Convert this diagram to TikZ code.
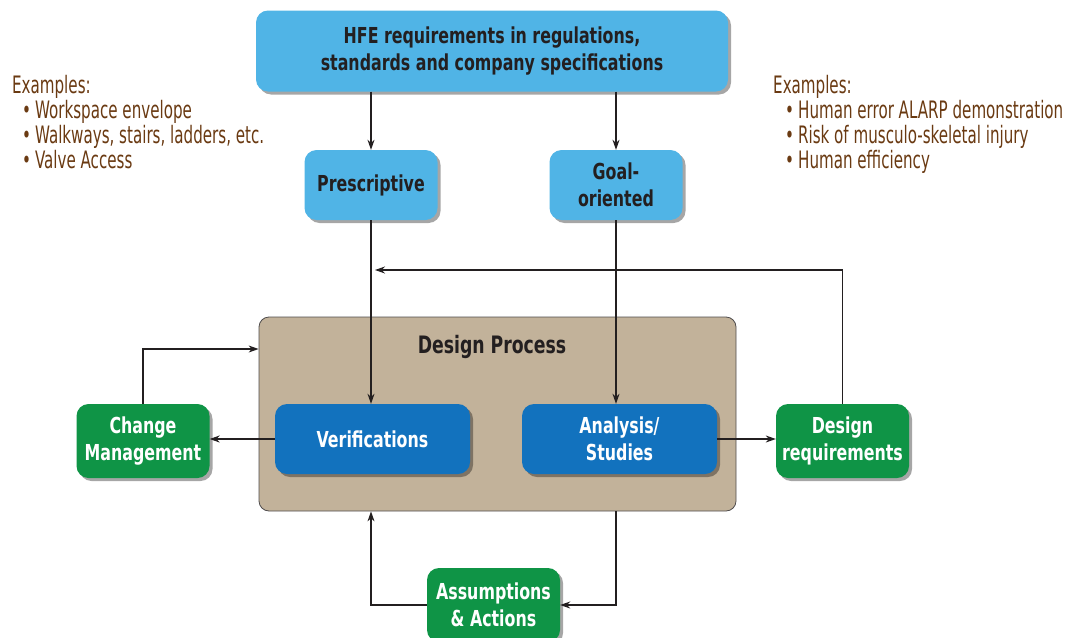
\documentclass[tikz,border=0pt]{standalone}
\usepackage{fontspec}
\setmainfont{DejaVu Sans Condensed}[FakeStretch=0.8]
\newfontfamily\exfont{DejaVu Sans Condensed}[FakeStretch=0.7]
\usepackage{tikz}
\usetikzlibrary{arrows.meta,positioning,shadows,calc}
\usepackage{xcolor}
\definecolor{hfeblue}{HTML}{50B4E6}
\definecolor{procblue}{HTML}{1272BE}
\definecolor{chgreen}{HTML}{0F9446}
\definecolor{designtan}{HTML}{C2B29A}
\definecolor{exbrown}{HTML}{6A3A12}
\definecolor{inkdark}{HTML}{231F20}

\begin{document}
\begin{tikzpicture}[
    x=1pt, y=-1pt,
    box/.style={rounded corners=12pt, align=center, inner sep=2pt, font=\bfseries\fontsize{22}{27}\selectfont, drop shadow={shadow xshift=3pt, shadow yshift=-3pt, opacity=0.35, fill=black}},
    lbox/.style={box, fill=hfeblue, text=inkdark, minimum width=133pt, minimum height=70pt},
    dbox/.style={box, fill=procblue, text=white, minimum width=195pt, minimum height=70pt},
    gbox/.style={box, fill=chgreen, text=white, minimum width=133pt, minimum height=74pt},
    arr/.style={-{Stealth[length=10pt,width=7pt]}, line width=1.1pt, draw=inkdark},
    extext/.style={font=\exfont\fontsize{24}{25}\selectfont, text=exbrown, align=left, inner sep=0pt}
]
\useasboundingbox (0,0) rectangle (1073,637);
% Requirements
\node[lbox, minimum width=472pt, minimum height=81pt] (hfe) at (492,51) {HFE requirements in regulations,\\standards and company specifications};
\node[lbox] (presc) at (371,185) {Prescriptive};
\node[lbox] (goal) at (616,185) {Goal-\\oriented};
% Design process
\node[draw=inkdark!80, fill=designtan, rounded corners=10pt, minimum width=477pt, minimum height=194pt, line width=0.8pt] (dp) at (497.5,414) {};
\node[font=\bfseries\fontsize{24}{27}\selectfont, text=inkdark] (dplabel) at (492,347) {Design Process};
\node[dbox] (verif) at (372.5,439) {Verifications};
\node[dbox] (anal) at (619.5,439) {Analysis/\\Studies};
% Outside loops
\node[gbox] (chg) at (143,441) {Change\\Management};
\node[gbox] (dreq) at (842.5,441) {Design\\requirements};
\node[gbox] (assum) at (493.5,605) {Assumptions\\\& Actions};
% Examples
\node[extext, anchor=north west] (exleft) at (12,75) {Examples:\\\hspace*{10pt}\textbullet\,Workspace envelope\\\hspace*{10pt}\textbullet\,Walkways, stairs, ladders, etc.\\\hspace*{10pt}\textbullet\,Valve Access};
\node[extext, anchor=north west] (exright) at (773,75) {Examples:\\\hspace*{12pt}\textbullet\,Human error ALARP demonstration\\\hspace*{12pt}\textbullet\,Risk of musculo-skeletal injury\\\hspace*{12pt}\textbullet\,Human efficiency};
% Arrows
\draw[arr] (hfe.south -| presc) -- (presc);
\draw[arr] (hfe.south -| goal) -- (goal);
\draw[arr] (presc.south) -- (presc.south |- verif.north);
\draw[arr] (goal.south) -- (goal.south |- anal.north);
\draw[arr] (verif.west) -- (verif.west -| chg.east);
\draw[arr] (anal.east) -- (anal.east -| dreq.west);
\coordinate (fb) at (0,270);
\draw[arr] (dreq.north) |- ([xshift=4pt]presc.south |- fb);
\draw[arr] (chg.north) |- ([yshift=65pt]dp.west);
\draw[arr] (dp.south -| goal) |- (assum.east);
\draw[arr] (assum.west) -| (dp.south -| presc);
\end{tikzpicture}
\end{document}
